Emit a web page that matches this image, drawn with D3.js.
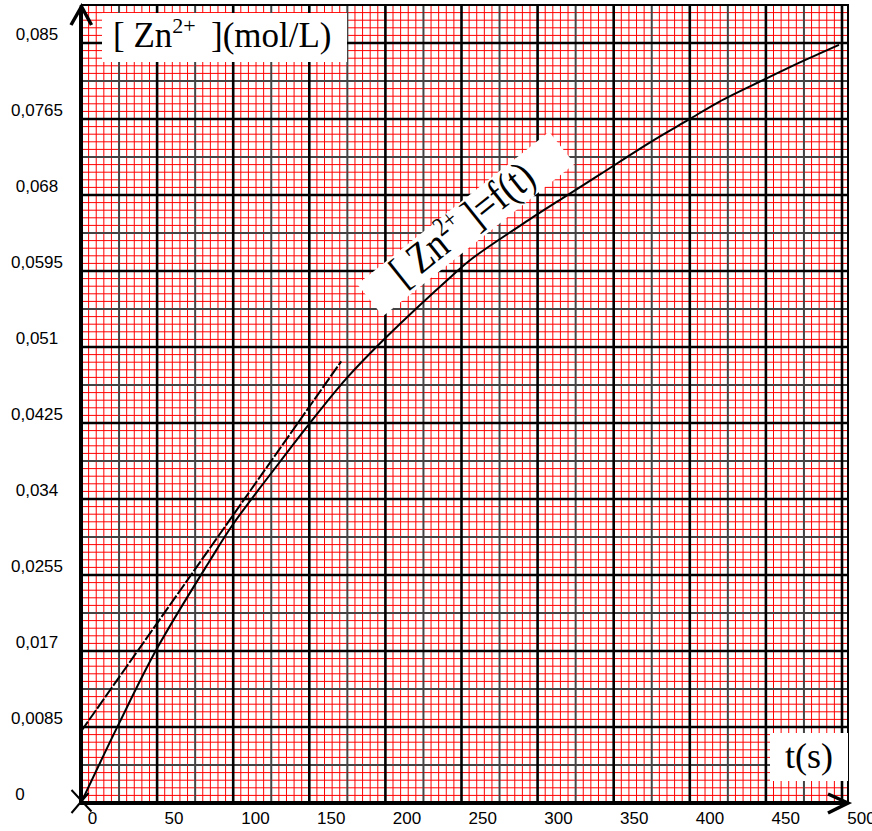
<!DOCTYPE html>
<html lang="fr">
<head>
    <meta charset="UTF-8">
    <title>[Zn2+] = f(t)</title>
    <style>
        body { margin: 0; background: #fff; }
        .tick text { font-family: "Liberation Sans", Arial, sans-serif; font-size: 17px; fill: #000; }
        .lbl { font-family: "Liberation Serif", "Times New Roman", serif; fill: #000; }
    </style>
</head>
<body>
    <div id="chart"></div>

    <script src="https://d3js.org/d3.v7.min.js"></script>
    <script>
        const width = 872;
        const height = 831;

        // Measured curve [Zn2+] = f(t)
        const timeS = [0, 25, 50, 85, 100, 130, 150, 174, 200, 244, 257, 295, 317, 341, 375, 399, 419, 450, 472, 498];
        const zincC = [0, 0.0089, 0.0173, 0.0272, 0.0312, 0.0380, 0.0424, 0.0474, 0.0520, 0.0590, 0.0609,
                       0.0653, 0.0677, 0.0703, 0.0740, 0.0764, 0.0784, 0.0810, 0.0828, 0.0848];

        // Tangent (dashed)
        const tangentT = [0, 171];
        const tangentC = [0.0080, 0.0494];

        // Tick labels
        const xTickValues = [0, 50, 100, 150, 200, 250, 300, 350, 400, 450, 500];
        const xTickLabels = ["0", "50", "100", "150", "200", "250", "300", "350", "400", "450", "500"];
        const yTickValues = [0, 0.0085, 0.017, 0.0255, 0.034, 0.0425, 0.051, 0.0595, 0.068, 0.0765, 0.085];
        const yTickLabels = ["0", "0,0085", "0,017", "0,0255", "0,034", "0,0425", "0,051", "0,0595", "0,068", "0,0765", "0,085"];

        const x = d3.scaleLinear().domain([0, 500]).range([81, 842]);
        const y = d3.scaleLinear().domain([0, 0.085]).range([803, 43]);
        // labels in the original are not quite under the grid lines
        const xLabel = d3.scaleLinear().domain([0, 100, 500]).range([92, 255, 861]);

        const yTop = y(0.08925);
        const xRight = 848;

        const svg = d3.select("#chart").append("svg")
            .attr("width", width)
            .attr("height", height);

        // Millimetre paper grid
        const vLines = d3.range(0, 101);   // every 5 s
        const hLines = d3.range(0, 105);   // every 0.00085 mol/L
        const kind = i => i % 10 === 0 ? "major" : (i % 5 === 0 ? "mid" : "minor");
        const gridStyle = {
            minor: { stroke: "#ff0000", w: 1 },
            mid: { stroke: "#444444", w: 2 },
            major: { stroke: "#000000", w: 2.6 }
        };

        const grid = svg.append("g");
        ["minor", "mid", "major"].forEach(k => {
            grid.selectAll("line.v-" + k)
                .data(vLines.filter(i => kind(i) === k))
                .enter().append("line")
                .attr("class", "v-" + k)
                .attr("x1", i => x(i * 5)).attr("x2", i => x(i * 5))
                .attr("y1", y(0)).attr("y2", yTop)
                .attr("stroke", gridStyle[k].stroke)
                .attr("stroke-width", gridStyle[k].w);
            grid.selectAll("line.h-" + k)
                .data(hLines.filter(i => kind(i) === k))
                .enter().append("line")
                .attr("class", "h-" + k)
                .attr("x1", x(0)).attr("x2", xRight)
                .attr("y1", i => y(i * 0.00085)).attr("y2", i => y(i * 0.00085))
                .attr("stroke", gridStyle[k].stroke)
                .attr("stroke-width", gridStyle[k].w);
        });

        // Frame (top and right)
        svg.append("path")
            .attr("d", `M${x(0)},${yTop}H${xRight}V${y(0)}`)
            .attr("fill", "none")
            .attr("stroke", "#000")
            .attr("stroke-width", 2);

        // Axes with arrows
        svg.append("line")
            .attr("x1", x(0)).attr("x2", x(0))
            .attr("y1", y(0) + 2).attr("y2", yTop + 2)
            .attr("stroke", "#000").attr("stroke-width", 4);
        svg.append("line")
            .attr("x1", x(0) - 2).attr("x2", xRight)
            .attr("y1", y(0)).attr("y2", y(0))
            .attr("stroke", "#000").attr("stroke-width", 4);
        svg.append("path")
            .attr("d", `M${x(0) - 10},${yTop + 20}L${x(0) + 0.5},${yTop + 1.5}L${x(0) + 10.5},${yTop + 20}`)
            .attr("fill", "none").attr("stroke", "#000").attr("stroke-width", 3.5);
        svg.append("path")
            .attr("d", `M${xRight - 20},${y(0) - 9}L${xRight},${y(0)}L${xRight - 20},${y(0) + 10}`)
            .attr("fill", "none").attr("stroke", "#000").attr("stroke-width", 3.5);

        // Tick labels
        const yAxis = svg.append("g")
            .call(d3.axisLeft(y).tickValues(yTickValues).tickFormat((d, i) => yTickLabels[i]).tickSize(0));
        yAxis.select(".domain").remove();
        yAxis.selectAll("text")
            .attr("x", d => d === 0 ? 20 : 37)
            .attr("dy", "-4px")
            .attr("text-anchor", "middle");

        const xAxis = svg.append("g")
            .attr("transform", "translate(0,806)")
            .call(d3.axisBottom(xLabel).tickValues(xTickValues).tickFormat((d, i) => xTickLabels[i]).tickSize(0));
        xAxis.select(".domain").remove();
        xAxis.selectAll("text").attr("y", 0).attr("dy", "18px");

        // Axis titles on white boxes
        svg.append("rect")
            .attr("x", 102).attr("y", 13).attr("width", 245).attr("height", 49)
            .attr("fill", "#fff");
        const yTitle = svg.append("text").attr("class", "lbl")
            .attr("x", 113).attr("y", 47).attr("font-size", 35);
        yTitle.append("tspan").text("[ Zn");
        yTitle.append("tspan").attr("font-size", 22).attr("dy", -14.5).text("2+");
        yTitle.append("tspan").attr("x", 211).attr("dy", 14.5).text("](mol/L)");

        svg.append("rect")
            .attr("x", 770).attr("y", 733).attr("width", 78).attr("height", 48)
            .attr("fill", "#fff");
        svg.append("text").attr("class", "lbl")
            .attr("x", 809).attr("y", 768)
            .attr("text-anchor", "middle")
            .attr("font-size", 36)
            .text("t(s)");

        // Rotated curve label (text is a bit stretched vertically in the original)
        const curveLbl = svg.append("g")
            .attr("transform", "translate(466,224) rotate(-38.5)");
        curveLbl.append("rect")
            .attr("x", -122.5).attr("y", -20.5).attr("width", 245).attr("height", 41)
            .attr("fill", "#fff");
        const cl = curveLbl.append("text").attr("class", "lbl")
            .attr("transform", "scale(1,1.2)")
            .attr("x", -3).attr("y", 9.6)
            .attr("text-anchor", "middle")
            .attr("font-size", 36);
        cl.append("tspan").text("[ Zn");
        cl.append("tspan").attr("font-size", 22).attr("dy", -14).text("2+");
        cl.append("tspan").attr("dx", 8).attr("dy", 14).text("]=f(t)");

        // Tangent
        const line = d3.line().x(d => x(d[0])).y(d => y(d[1]));
        svg.append("path")
            .datum(tangentT.map((t, i) => [t, tangentC[i]]))
            .attr("d", line)
            .attr("fill", "none")
            .attr("stroke", "#000")
            .attr("stroke-width", 2)
            .attr("stroke-dasharray", "12,2");

        // Curve
        svg.append("path")
            .datum(timeS.map((t, i) => [t, zincC[i]]))
            .attr("d", line.curve(d3.curveCatmullRom.alpha(0.5)))
            .attr("fill", "none")
            .attr("stroke", "#000")
            .attr("stroke-width", 2);

        // Cross at origin
        const ox = x(timeS[0]), oy = y(zincC[0]) - 1;
        svg.append("path")
            .attr("d", `M${ox - 9.5},${oy - 12}L${ox + 10.5},${oy + 9.5}M${ox - 9.5},${oy + 11}L${ox + 7.5},${oy - 9}`)
            .attr("fill", "none")
            .attr("stroke", "#000")
            .attr("stroke-width", 2);
    </script>
</body>
</html>
